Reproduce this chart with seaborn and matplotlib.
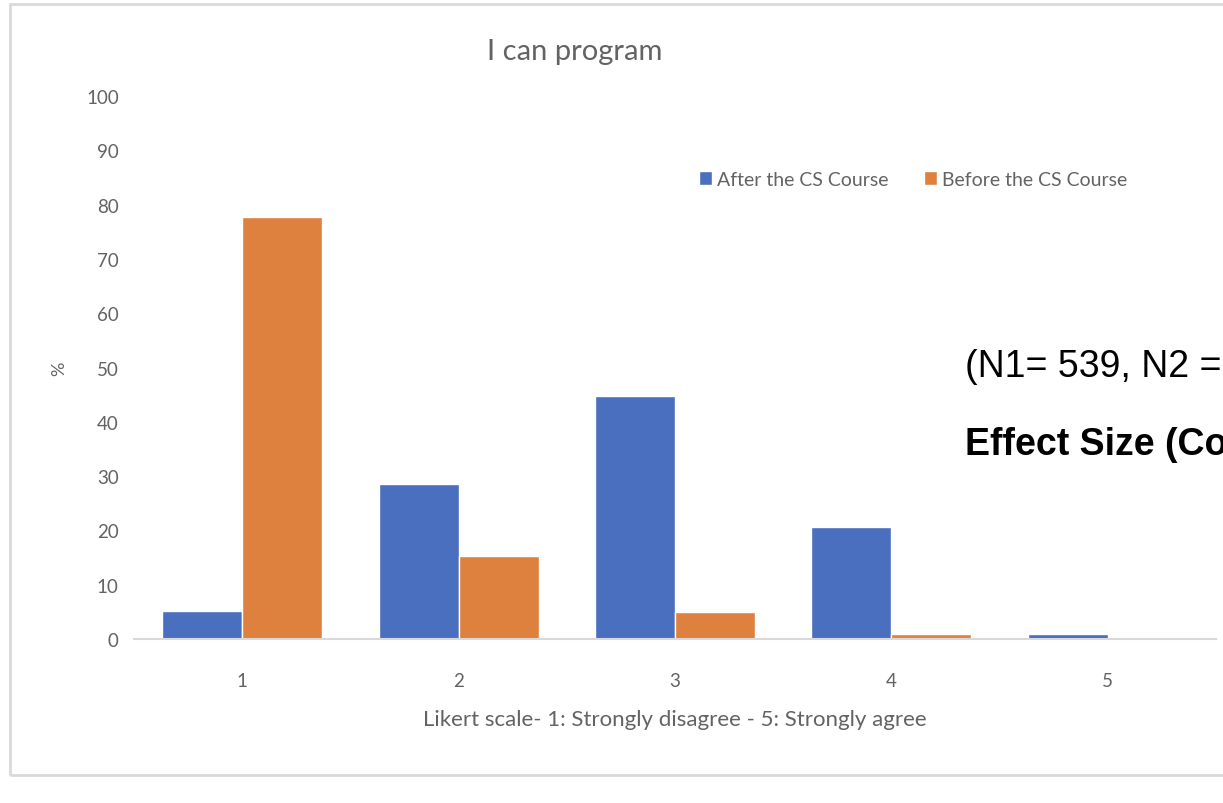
import pandas as pd
import seaborn as sns
import matplotlib.pyplot as plt
from matplotlib.patches import Rectangle

# Data (% of respondents per Likert level)
likert = ["1", "2", "3", "4", "5"]
after_course = [5.2, 28.5, 44.8, 20.6, 1.0]
before_course = [77.7, 15.3, 5.0, 1.0, 0.0]
groups = ["After the CS Course", "Before the CS Course"]
colors = ["#4A6FBE", "#DF813E"]

df = pd.DataFrame({
    "Likert": likert + likert,
    "Percent": after_course + before_course,
    "Group": [groups[0]] * len(likert) + [groups[1]] * len(likert),
})

sns.set_style("white")
plt.rcParams["font.family"] = ["Lato", "DejaVu Sans"]
grey = "#636363"

W, H = 1223, 804
fig = plt.figure(figsize=(W / 100, H / 100), dpi=100)

# chart border (cropped on the right like the original screenshot)
fig.patches.append(Rectangle((10 / W, 1 - 776 / H), 1.2, (776 - 5) / H,
                             transform=fig.transFigure, fill=False,
                             edgecolor="#D9D9D9", linewidth=2))

ax = fig.add_axes([134 / W, (H - 640) / H, (1216 - 134) / W, (640 - 97) / H])
sns.barplot(data=df, x="Likert", y="Percent", hue="Group", hue_order=groups,
            palette=colors, saturation=1, width=0.74, errorbar=None, ax=ax)

ax.set_ylim(0, 100)
ax.set_yticks(range(0, 101, 10))
ax.tick_params(axis="both", length=0, labelsize=13.5, colors=grey)
ax.tick_params(axis="x", pad=24)
ax.tick_params(axis="y", pad=11)
for s in ["top", "right", "left"]:
    ax.spines[s].set_visible(False)
ax.spines["bottom"].set_color("#D9D9D9")
ax.spines["bottom"].set_linewidth(1.5)

ax.set_xlabel("Likert scale- 1: Strongly disagree - 5: Strongly agree",
              fontsize=16, color=grey, labelpad=14)
ax.set_ylabel("%", fontsize=13, color=grey)
ax.yaxis.set_label_coords(-0.062, 0.5)

fig.text(575 / W, 1 - 52 / H, "I can program", ha="center", va="center",
         fontsize=21, color=grey)

handles, labels = ax.get_legend_handles_labels()
ax.legend(handles, labels, loc="center", bbox_to_anchor=(913 / W, 1 - 180 / H),
          bbox_transform=fig.transFigure, ncol=2, frameon=False,
          fontsize=14, labelcolor=grey, handlelength=0.7, handleheight=0.7,
          handletextpad=0.25, columnspacing=1.8)

fig.text(965 / W, 1 - 367 / H, "(N1= 539, N2 =", ha="left", va="center",
         fontsize=27, color="black", family="Liberation Sans")
fig.text(965 / W, 1 - 445 / H, "Effect Size (Co", ha="left", va="center",
         fontsize=27, color="black", family="Liberation Sans", weight="bold")

plt.savefig("out.png", dpi=100)
